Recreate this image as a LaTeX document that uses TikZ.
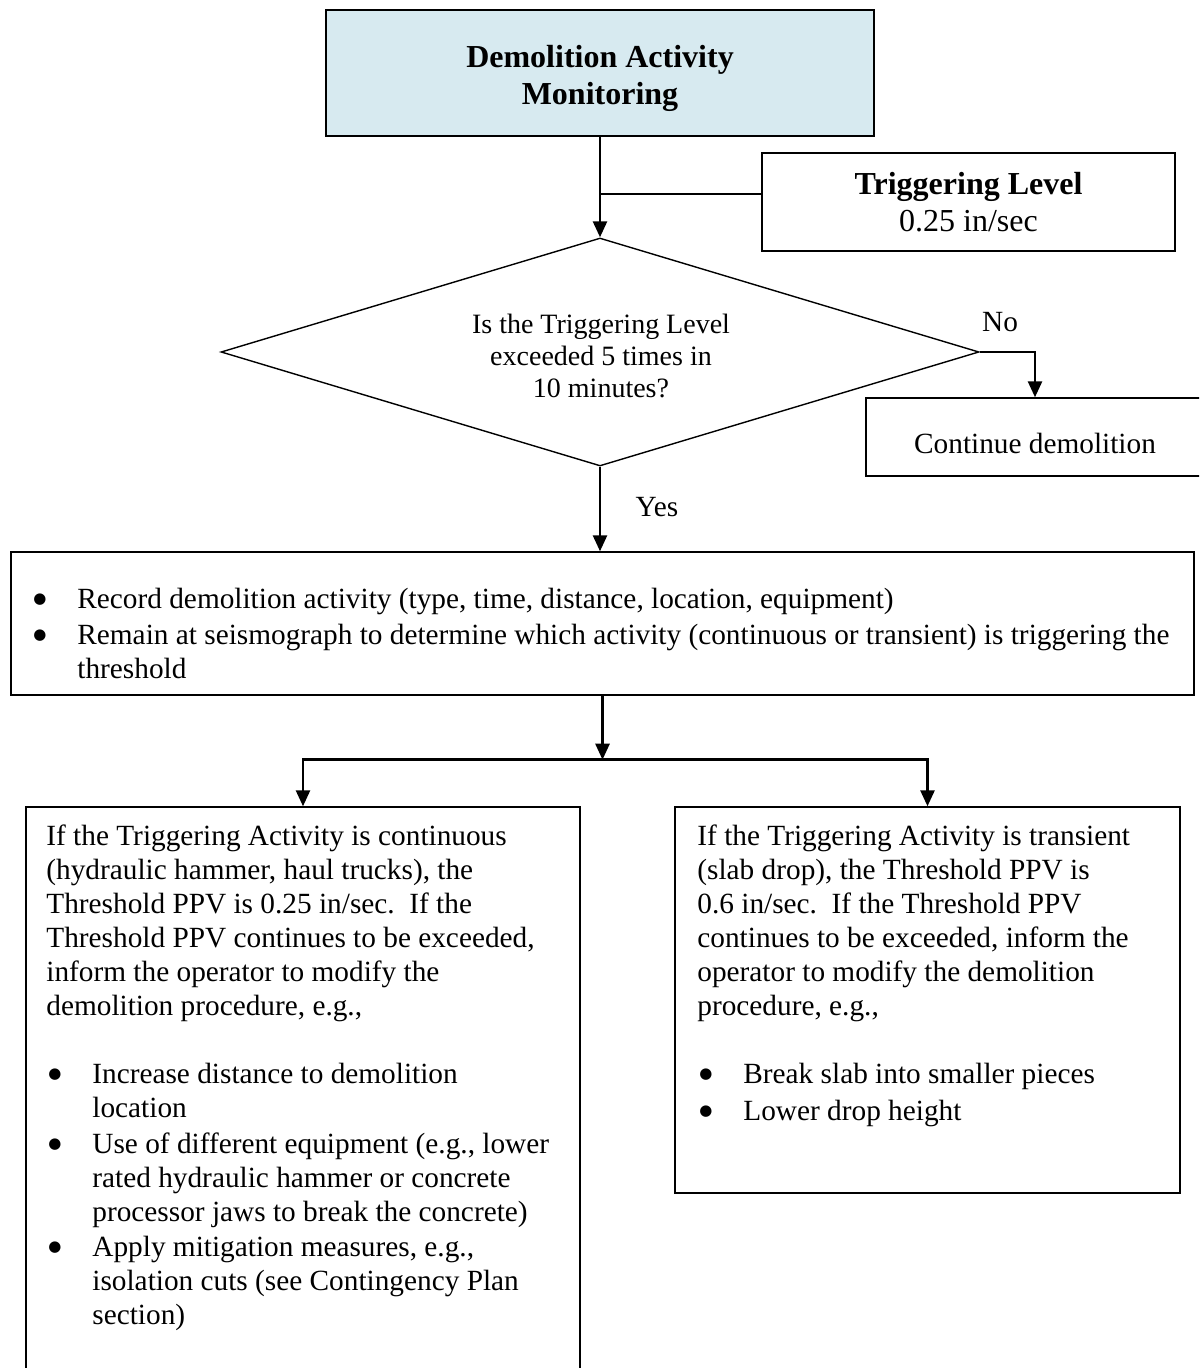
\documentclass[tikz,border=0pt]{standalone}
\usepackage{fontspec}
\setmainfont{Liberation Serif}
\newfontfamily\symfont{DejaVu Sans}
\usetikzlibrary{shapes.geometric,arrows.meta,calc}
\definecolor{topfill}{RGB}{215,234,240}
\newcommand\bodyfont{\fontsize{14.65}{17}\selectfont}
\newcommand\titlefont{\fontsize{16}{18.5}\selectfont}
\newcommand\bul{\makebox[23pt][l]{\hspace{1pt}\raisebox{2.3pt}{\symfont\fontsize{7.5}{8}\selectfont ●}}}
\newcommand\ind{\hspace*{23pt}}
\begin{document}
\begin{tikzpicture}[x=0.5pt,y=-0.5pt,
  box/.style={draw, line width=0.7pt, rectangle, inner sep=0pt},
  arr/.style={line width=1.3pt, -{Triangle[length=8pt,width=7pt]}},
  thinline/.style={line width=0.7pt},
  txt/.style={inner sep=0pt, anchor=base west}]
\useasboundingbox (0,0) rectangle (1199,1368);
\clip (0,0) rectangle (1199,1368);

% boxes
\node[box, fill=topfill, minimum width=274pt, minimum height=63pt] (top) at (600,73) {};
\node[align=center, inner sep=0pt, font=\titlefont\bfseries]
  (toptext) at (600,78) {Demolition Activity\\Monitoring};
\node[box, minimum width=206.5pt, minimum height=49pt, align=center, font=\titlefont]
  (trig) at (968.5,202) {\textbf{Triggering Level}\\0.25 in/sec};
\node[diamond, draw, line width=0.7pt, minimum width=379pt, minimum height=114pt, inner sep=0pt]
  (dec) at (600,352) {};
\node[align=center, inner sep=0pt, font=\fontsize{14}{16}\selectfont]
  (dectext) at (601,356) {Is the Triggering Level\\exceeded 5 times in\\10 minutes?};
\node[box, minimum width=169pt, minimum height=39pt] (cont) at (1035,437) {};
\node[inner sep=0pt, font=\bodyfont] (conttext) at (1035,443) {Continue demolition};
\node[box, minimum width=591.5pt, minimum height=71.5pt] (rec) at (602.5,623.5) {};
\node[box, minimum width=277pt, minimum height=296.5pt] (left) at (303,1103.5) {};
\node[box, minimum width=252.5pt, minimum height=193pt] (right) at (927.5,1000) {};

% labels
\node[inner sep=0pt, font=\bodyfont] (no) at (1000,322) {No};
\node[inner sep=0pt, font=\bodyfont] (yes) at (657,507) {Yes};

% record box text
\node[txt] (r1) at (31,608) {\parbox[t]{580pt}{\bodyfont
  \bul Record demolition activity (type, time, distance, location, equipment)}};
\node[txt] (r2) at (31,644) {\parbox[t]{580pt}{\bodyfont
  \bul Remain at seismograph to determine which activity (continuous or transient) is triggering the\\
  \ind threshold}};

% left box text
\node[txt] (l0) at (46,845) {\parbox[t]{270pt}{\bodyfont
  If the Triggering Activity is continuous\\
  (hydraulic hammer, haul trucks), the\\
  Threshold PPV is 0.25 in/sec.\ \ If the\\
  Threshold PPV continues to be exceeded,\\
  inform the operator to modify the\\
  demolition procedure, e.g.,}};
\node[txt] (l1) at (46,1083) {\parbox[t]{270pt}{\bodyfont
  \bul Increase distance to demolition\\
  \ind location}};
\node[txt] (l2) at (46,1153) {\parbox[t]{270pt}{\bodyfont
  \bul Use of different equipment (e.g., lower\\
  \ind rated hydraulic hammer or concrete\\
  \ind processor jaws to break the concrete)}};
\node[txt] (l3) at (46,1256) {\parbox[t]{270pt}{\bodyfont
  \bul Apply mitigation measures, e.g.,\\
  \ind isolation cuts (see Contingency Plan\\
  \ind section)}};

% right box text
\node[txt] (rr0) at (697,845) {\parbox[t]{245pt}{\bodyfont
  If the Triggering Activity is transient\\
  (slab drop), the Threshold PPV is\\
  0.6 in/sec.\ \ If the Threshold PPV\\
  continues to be exceeded, inform the\\
  operator to modify the demolition\\
  procedure, e.g.,}};
\node[txt] (rr1) at (697,1083) {\parbox[t]{245pt}{\bodyfont
  \bul Break slab into smaller pieces}};
\node[txt] (rr2) at (697,1120) {\parbox[t]{245pt}{\bodyfont
  \bul Lower drop height}};

% connectors
\draw[arr] (top.south) -- (dec.north);
\coordinate (tj) at ($(trig.west)+(0,-8)$);
\draw[thinline] (tj) -- (tj -| top.south);
\draw[arr] (dec.east) -| (cont.north);
\draw[arr] (dec.south) -- (dec.south |- rec.north);
\coordinate (split) at ($(rec.south)+(0,64)$);
\draw[arr] (rec.south) -- (split);
\draw[arr] (split) -| (left.north);
\draw[arr] (split) -| (right.north);
\end{tikzpicture}
\end{document}
